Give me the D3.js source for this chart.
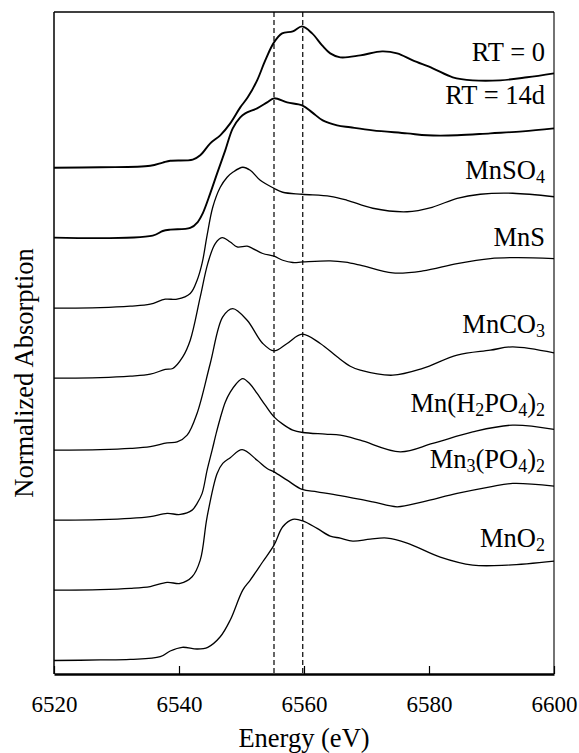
<!DOCTYPE html>
<html>
<head>
<meta charset="utf-8">
<script src="https://cdn.jsdelivr.net/npm/d3@7"></script>
<style>
  body { margin: 0; background: #fff; }
  svg { display: block; }
</style>
</head>
<body>
<div id="chart"></div>
<script>
// spectra, pre-edge set to 0: [energy eV, absorption]
const names = ["RT = 0", "RT = 14d", "MnSO_4", "MnS", "MnCO_3", "Mn(H_2PO_4)_2", "Mn_3(PO_4)_2", "MnO_2"];
const offsets = [5.628, 4.852, 4.067, 3.289, 2.489, 1.711, 0.933, 0.15];

const rt0 = [[6520,0],[6527.4,0.006],[6535.4,0.022],[6537.4,0.058],[6538.6,0.078],[6542.2,0.091],[6543.4,0.139],
  [6545.0,0.272],[6546.6,0.361],[6548.2,0.494],[6549.8,0.672],[6551.0,0.783],[6552.5,0.972],[6553.8,1.194],
  [6555.2,1.394],[6556.5,1.494],[6558.2,1.517],[6559.7,1.572],[6561.3,1.494],[6562.9,1.361],[6564.2,1.272],
  [6565.8,1.228],[6569.0,1.25],[6572.5,1.294],[6574.9,1.272],[6577.4,1.194],[6580.6,1.106],[6583.8,1.006],
  [6587.0,0.972],[6591.4,0.972],[6595.7,1.006],[6600,1.05]];

const rt14 = [[6520,0],[6535.8,0.022],[6537.4,0.073],[6538.6,0.089],[6541.8,0.107],[6543.0,0.173],[6543.8,0.27],
  [6545.0,0.492],[6546.1,0.714],[6547.4,0.97],[6548.6,1.214],[6549.8,1.337],[6550.6,1.381],[6552.5,1.437],
  [6554.1,1.503],[6555.2,1.548],[6557.3,1.503],[6559.7,1.47],[6561.3,1.392],[6563.0,1.303],[6565.3,1.248],
  [6567.4,1.226],[6571.0,1.192],[6576.5,1.159],[6579.7,1.137],[6584.5,1.137],[6589.8,1.159],[6595.0,1.181],
  [6600,1.214]];

const mnso4 = [[6520,0],[6527.4,0.006],[6532.2,0.022],[6535.4,0.044],[6537.8,0.1],[6539.7,0.1],[6541.8,0.163],
  [6542.9,0.311],[6543.7,0.5],[6544.5,0.811],[6545.4,1.122],[6546.6,1.344],[6547.7,1.456],[6548.6,1.511],
  [6550.2,1.567],[6551.4,1.533],[6553.0,1.422],[6555.2,1.333],[6556.6,1.289],[6559.7,1.267],[6564.2,1.244],
  [6566.9,1.2],[6571.0,1.111],[6576.5,1.072],[6580.5,1.122],[6584.5,1.222],[6588.2,1.267],[6593.4,1.278],
  [6600,1.239]];

const mns = [[6520,0],[6527.4,0.006],[6532.2,0.022],[6535.4,0.044],[6537.8,0.097],[6539.0,0.108],[6540.6,0.237],
  [6541.8,0.422],[6543.4,0.903],[6544.6,1.274],[6545.8,1.497],[6546.9,1.563],[6548.2,1.514],[6549.3,1.459],
  [6550.9,1.467],[6551.8,1.441],[6553.4,1.386],[6555.2,1.356],[6556.6,1.311],[6558.2,1.286],[6559.8,1.292],
  [6564.2,1.303],[6566.6,1.289],[6569.0,1.256],[6574.2,1.17],[6579.0,1.192],[6584.5,1.274],[6589.8,1.33],
  [6594.1,1.341],[6600,1.33]];

const mnco3 = [[6520,0],[6527.4,0.006],[6532.2,0.019],[6535.4,0.039],[6538.1,0.081],[6539.7,0.091],[6541.3,0.167],
  [6542.9,0.411],[6545.0,0.963],[6547.0,1.481],[6548.6,1.574],[6550.9,1.444],[6553.4,1.186],[6555.2,1.103],
  [6557.3,1.186],[6559.7,1.289],[6562.6,1.186],[6565.3,1.037],[6567.4,0.933],[6569.0,0.889],[6574.2,0.833],
  [6579.0,0.908],[6584.5,1.056],[6589.8,1.111],[6593.4,1.148],[6600,1.081]];

const mnh2po4 = [[6520,0],[6527.4,0.006],[6532.2,0.019],[6535.4,0.039],[6538.1,0.074],[6540.2,0.063],[6542.1,0.111],
  [6542.9,0.186],[6543.7,0.297],[6544.5,0.556],[6545.3,0.778],[6546.0,0.978],[6546.6,1.133],[6547.4,1.311],
  [6548.2,1.422],[6549.1,1.511],[6550.2,1.574],[6551.4,1.511],[6552.5,1.408],[6553.8,1.278],[6555.2,1.148],
  [6556.6,1.067],[6558.2,1.0],[6559.8,0.974],[6563.4,0.956],[6565.8,0.944],[6569.0,0.889],[6575.4,0.759],
  [6580.6,0.852],[6587.0,0.981],[6593.4,1.056],[6600,1.008]];

const mn3po4 = [[6520,0],[6527.4,0.006],[6532.2,0.019],[6535.4,0.039],[6538.1,0.086],[6540.2,0.074],[6542.1,0.148],
  [6543.4,0.333],[6544.5,0.814],[6546.1,1.297],[6547.0,1.408],[6548.2,1.472],[6550.1,1.561],[6552.5,1.444],
  [6554.1,1.352],[6555.2,1.314],[6557.3,1.222],[6559.7,1.119],[6562.1,1.092],[6565.8,1.05],[6571.0,0.981],
  [6574.9,0.926],[6579.0,0.981],[6584.5,1.074],[6589.8,1.148],[6593.4,1.186],[6600,1.156]];

const mno2 = [[6520,0],[6527.4,0.006],[6532.2,0.013],[6537.0,0.042],[6538.6,0.106],[6540.5,0.147],[6542.9,0.128],
  [6544.6,0.147],[6546.6,0.264],[6548.2,0.45],[6550.2,0.783],[6551.4,0.894],[6553.4,1.098],[6555.2,1.283],
  [6556.6,1.487],[6558.2,1.569],[6559.8,1.553],[6562.1,1.469],[6564.2,1.383],[6565.8,1.361],[6567.8,1.328],
  [6570.6,1.35],[6573.3,1.361],[6576.5,1.306],[6581.8,1.15],[6587.0,1.061],[6592.5,1.061],[6600,1.106]];

const spectra = [rt0, rt14, mnso4, mns, mnco3, mnh2po4, mn3po4, mno2];
const noisy = [true, true, false, false, false, false, false, false];
const xTicks = [6520, 6540, 6560, 6580, 6600];
const refLines = [6555.2, 6559.8];

// layout
const W = 579, H = 753;
const margin = { top: 12, right: 25, bottom: 79, left: 54 };
const labelBaseline = [61, 104, 179, 246, 333, 412, 468, 547];
const FONT = '"Liberation Serif", serif';

const svg = d3.select('#chart').append('svg').attr('width', W).attr('height', H);

const defs = svg.append('defs');
const rough = defs.append('filter').attr('id', 'rough')
  .attr('filterUnits', 'userSpaceOnUse').attr('x', 0).attr('y', 0).attr('width', W).attr('height', H);
rough.append('feTurbulence').attr('type', 'fractalNoise').attr('baseFrequency', 1.6).attr('numOctaves', 1).attr('seed', 4).attr('result', 'n');
rough.append('feDisplacementMap').attr('in', 'SourceGraphic').attr('in2', 'n').attr('scale', 1.1);

const x = d3.scaleLinear().domain([6520, 6600]).range([margin.left, W - margin.right]);
const y = d3.scaleLinear().domain([0, 7.36]).range([H - margin.bottom, margin.top]);

const plot = svg.append('g');

// dashed guides
plot.selectAll('line.ref').data(refLines).join('line')
  .attr('class', 'ref')
  .attr('x1', d => x(d)).attr('x2', d => x(d))
  .attr('y1', margin.top).attr('y2', H - margin.bottom)
  .attr('stroke', '#000').attr('stroke-width', 1.2).attr('stroke-dasharray', '5,3');

const line = d3.line().x(d => x(d[0])).curve(d3.curveCatmullRom.alpha(0.5));

plot.selectAll('path.spec').data(spectra).join('path')
  .attr('class', 'spec')
  .attr('d', (d, i) => line.y(p => y(p[1] + offsets[i]))(d))
  .attr('fill', 'none')
  .attr('stroke', '#000')
  .attr('stroke-width', (d, i) => noisy[i] ? 1.9 : 1.3)
  .attr('filter', (d, i) => noisy[i] ? 'url(#rough)' : null);

// frame
const x0 = margin.left, x1 = W - margin.right, y0 = margin.top, y1 = H - margin.bottom;
svg.append('line').attr('x1', x0).attr('x2', x1).attr('y1', y0).attr('y2', y0).attr('stroke', '#000').attr('stroke-width', 1.3);
svg.append('line').attr('x1', x1).attr('x2', x1).attr('y1', y0).attr('y2', y1).attr('stroke', '#000').attr('stroke-width', 1.1);
svg.append('line').attr('x1', x0).attr('x2', x0).attr('y1', y0).attr('y2', y1).attr('stroke', '#000').attr('stroke-width', 1.5);

const xAxis = svg.append('g')
  .attr('transform', `translate(0,${y1})`)
  .call(d3.axisBottom(x).tickValues(xTicks).tickFormat(d3.format('d')).tickSizeInner(-8).tickSizeOuter(0).tickPadding(22));
xAxis.select('.domain').attr('stroke-width', 2.4);
xAxis.selectAll('.tick line').attr('stroke-width', 1.2);
xAxis.selectAll('.tick text').attr('fill', '#000')
  .style('font-family', FONT).style('font-size', '23px');

svg.append('text')
  .attr('x', (x0 + x1) / 2).attr('y', 747)
  .attr('text-anchor', 'middle')
  .style('font-family', FONT).style('font-size', '26.5px')
  .text('Energy (eV)');

svg.append('text')
  .attr('transform', `translate(33,${373}) rotate(-90)`)
  .attr('text-anchor', 'middle')
  .style('font-family', FONT).style('font-size', '26.5px')
  .text('Normalized Absorption');

// series labels with subscripts
names.forEach((name, i) => {
  const t = svg.append('text')
    .attr('x', 545).attr('y', labelBaseline[i])
    .attr('text-anchor', 'end')
    .style('font-family', FONT).style('font-size', '26.5px');
  let shifted = false;
  name.split(/(_\d)/).filter(s => s.length).forEach(part => {
    if (part[0] === '_') {
      t.append('tspan').style('font-size', '18px').attr('dy', shifted ? 0 : 4).text(part.slice(1));
      shifted = true;
    } else {
      t.append('tspan').attr('dy', shifted ? -4 : 0).text(part);
      shifted = false;
    }
  });
});
</script>
</body>
</html>
